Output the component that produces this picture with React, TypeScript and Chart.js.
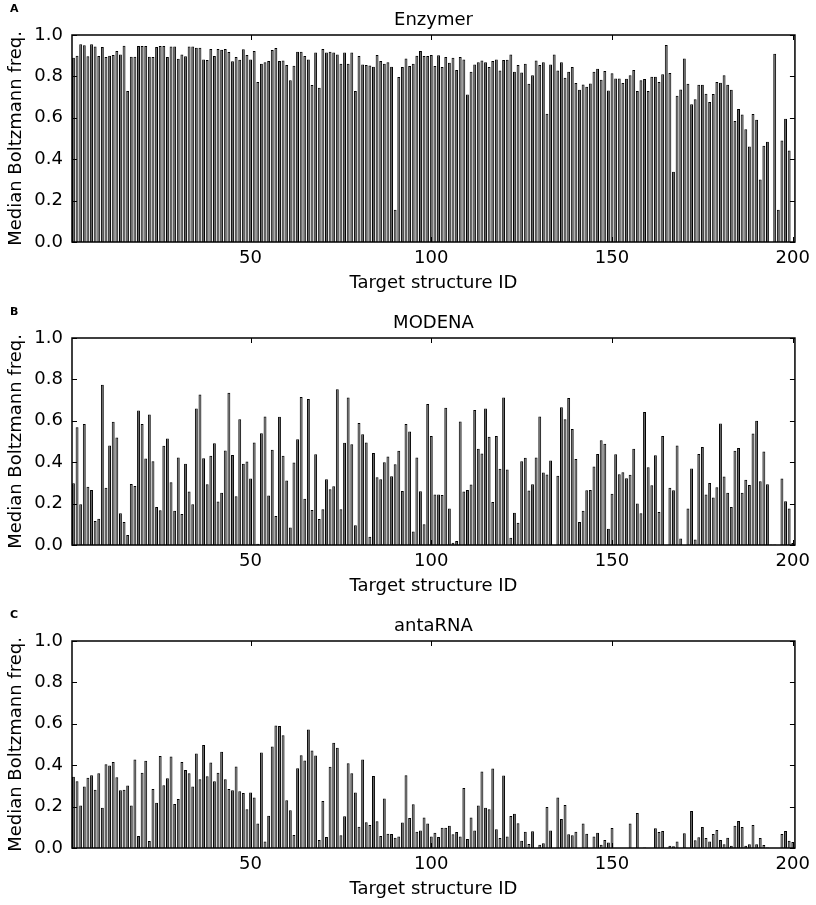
import React, { useEffect, useRef } from "react";
import { Chart, registerables } from "chart.js";

Chart.register(...registerables);

// target structure IDs and tick values
const structureIds = Array.from({ length: 200 }, (_, i) => i + 1);
const xTickValues = [50, 100, 150, 200];
const yTickValues = [0, 0.2, 0.4, 0.6, 0.8, 1.0];

// median Boltzmann frequency per target
const enzymer = [
  0.89, 0.9, 0.955, 0.95, 0.897, 0.955, 0.944, 0.898, 0.942, 0.894,
  0.9, 0.903, 0.923, 0.906, 0.948, 0.729, 0.895, 0.895, 0.947, 0.947,
  0.947, 0.895, 0.894, 0.942, 0.947, 0.947, 0.894, 0.944, 0.944, 0.885,
  0.906, 0.897, 0.944, 0.944, 0.939, 0.939, 0.882, 0.879, 0.932, 0.898,
  0.932, 0.929, 0.932, 0.918, 0.873, 0.894, 0.881, 0.931, 0.903, 0.882,
  0.923, 0.773, 0.861, 0.868, 0.874, 0.927, 0.937, 0.874, 0.877, 0.855,
  0.781, 0.852, 0.919, 0.919, 0.898, 0.882, 0.758, 0.915, 0.745, 0.932,
  0.916, 0.919, 0.915, 0.906, 0.861, 0.915, 0.861, 0.916, 0.729, 0.898,
  0.858, 0.855, 0.853, 0.847, 0.903, 0.874, 0.861, 0.868, 0.847, 0.156,
  0.797, 0.845, 0.887, 0.85, 0.861, 0.9, 0.923, 0.898, 0.898, 0.903,
  0.85, 0.902, 0.845, 0.894, 0.866, 0.89, 0.831, 0.894, 0.882, 0.713,
  0.823, 0.858, 0.868, 0.877, 0.868, 0.845, 0.874, 0.882, 0.829, 0.879,
  0.881, 0.906, 0.823, 0.855, 0.819, 0.861, 0.765, 0.805, 0.877, 0.855,
  0.868, 0.619, 0.858, 0.906, 0.829, 0.868, 0.794, 0.823, 0.845, 0.768,
  0.735, 0.761, 0.75, 0.766, 0.823, 0.837, 0.784, 0.826, 0.732, 0.815,
  0.79, 0.79, 0.768, 0.789, 0.805, 0.831, 0.729, 0.782, 0.787, 0.729,
  0.798, 0.798, 0.773, 0.81, 0.952, 0.816, 0.339, 0.706, 0.737, 0.887,
  0.765, 0.665, 0.69, 0.76, 0.76, 0.716, 0.676, 0.715, 0.773, 0.769,
  0.805, 0.76, 0.735, 0.584, 0.642, 0.616, 0.545, 0.461, 0.618, 0.59,
  0.302, 0.465, 0.484, 0, 0.91, 0.156, 0.49, 0.595, 0.442, 0,
];

const modena = [
  0.298, 0.569, 0.197, 0.585, 0.282, 0.266, 0.116, 0.127, 0.774, 0.277,
  0.481, 0.595, 0.519, 0.153, 0.111, 0.048, 0.295, 0.285, 0.65, 0.585,
  0.418, 0.631, 0.405, 0.184, 0.168, 0.479, 0.515, 0.303, 0.166, 0.423,
  0.15, 0.392, 0.258, 0.197, 0.66, 0.727, 0.419, 0.294, 0.431, 0.492,
  0.21, 0.253, 0.456, 0.735, 0.435, 0.235, 0.608, 0.392, 0.403, 0.321,
  0.495, 0.006, 0.54, 0.621, 0.239, 0.46, 0.14, 0.619, 0.431, 0.311,
  0.085, 0.398, 0.511, 0.715, 0.223, 0.705, 0.169, 0.439, 0.126, 0.173,
  0.318, 0.269, 0.284, 0.753, 0.173, 0.494, 0.713, 0.487, 0.095, 0.589,
  0.535, 0.495, 0.04, 0.445, 0.327, 0.318, 0.4, 0.427, 0.332, 0.39,
  0.455, 0.261, 0.584, 0.548, 0.065, 0.423, 0.26, 0.1, 0.681, 0.527,
  0.244, 0.244, 0.242, 0.663, 0.176, 0.011, 0.019, 0.597, 0.258, 0.266,
  0.292, 0.652, 0.465, 0.442, 0.66, 0.523, 0.208, 0.526, 0.368, 0.713,
  0.365, 0.035, 0.156, 0.108, 0.405, 0.421, 0.263, 0.294, 0.423, 0.621,
  0.35, 0.34, 0.408, 0, 0.335, 0.666, 0.608, 0.71, 0.56, 0.415,
  0.111, 0.166, 0.265, 0.266, 0.379, 0.44, 0.506, 0.489, 0.079, 0.248,
  0.439, 0.342, 0.352, 0.323, 0.339, 0.465, 0.2, 0.153, 0.642, 0.376,
  0.289, 0.434, 0.16, 0.527, 0, 0.276, 0.265, 0.481, 0.031, 0,
  0.176, 0.369, 0.027, 0.44, 0.473, 0.244, 0.3, 0.229, 0.279, 0.587,
  0.331, 0.253, 0.184, 0.455, 0.469, 0.253, 0.315, 0.29, 0.539, 0.6,
  0.308, 0.452, 0.294, 0.003, 0.003, 0, 0.321, 0.211, 0.176, 0.01,
];

const antarna = [
  0.344, 0.323, 0.205, 0.297, 0.339, 0.352, 0.282, 0.361, 0.195, 0.405,
  0.398, 0.416, 0.342, 0.279, 0.282, 0.302, 0.205, 0.427, 0.058, 0.363,
  0.421, 0.034, 0.285, 0.219, 0.445, 0.303, 0.337, 0.442, 0.213, 0.237,
  0.415, 0.377, 0.361, 0.297, 0.456, 0.332, 0.497, 0.347, 0.413, 0.323,
  0.363, 0.465, 0.332, 0.285, 0.279, 0.394, 0.274, 0.266, 0.187, 0.268,
  0.244, 0.118, 0.461, 0.031, 0.156, 0.49, 0.592, 0.589, 0.545, 0.231,
  0.182, 0.063, 0.385, 0.448, 0.423, 0.573, 0.471, 0.447, 0.039, 0.227,
  0.053, 0.392, 0.508, 0.484, 0.061, 0.153, 0.41, 0.361, 0.268, 0.103,
  0.427, 0.124, 0.111, 0.348, 0.129, 0.058, 0.239, 0.069, 0.068, 0.05,
  0.055, 0.123, 0.352, 0.145, 0.211, 0.079, 0.084, 0.147, 0.118, 0.056,
  0.074, 0.053, 0.098, 0.098, 0.108, 0.066, 0.077, 0.056, 0.29, 0.044,
  0.147, 0.084, 0.205, 0.369, 0.195, 0.187, 0.384, 0.09, 0.048, 0.35,
  0.056, 0.155, 0.165, 0.119, 0.035, 0.079, 0.019, 0.081, 0, 0.016,
  0.023, 0.198, 0.085, 0, 0.244, 0.14, 0.208, 0.066, 0.061, 0.079,
  0, 0.118, 0.069, 0, 0.055, 0.074, 0.016, 0.039, 0.026, 0.097,
  0, 0, 0, 0, 0.118, 0, 0.169, 0, 0.003, 0,
  0, 0.095, 0.077, 0.082, 0, 0.011, 0.008, 0.032, 0, 0.071,
  0, 0.179, 0.037, 0.052, 0.102, 0.048, 0.031, 0.068, 0.087, 0.039,
  0.018, 0.05, 0.011, 0.108, 0.131, 0.102, 0.011, 0.018, 0.111, 0.018,
  0.048, 0.015, 0.003, 0, 0, 0, 0.068, 0.082, 0.035, 0.029,
];

const FONT = "'DejaVu Sans', sans-serif";
const PANEL_W = 816;
const PANEL_H = 303;

// matplotlib-like frame: box, inward ticks on all sides, title and panel letter
const mplFrame = {
  id: "mplFrame",
  afterDraw(chart: any, _args: any, opts: any) {
    const { ctx, chartArea: a, scales } = chart;
    const tick = 5;
    ctx.save();
    ctx.strokeStyle = "#000";
    ctx.lineWidth = 1;
    ctx.beginPath();
    xTickValues.forEach((v) => {
      const px = Math.round(scales.x.getPixelForValue(v)) + 0.5;
      ctx.moveTo(px, a.bottom);
      ctx.lineTo(px, a.bottom - tick);
      ctx.moveTo(px, a.top);
      ctx.lineTo(px, a.top + tick);
    });
    yTickValues.forEach((v) => {
      const py = Math.round(scales.y.getPixelForValue(v)) + 0.5;
      ctx.moveTo(a.left, py);
      ctx.lineTo(a.left + tick, py);
      ctx.moveTo(a.right, py);
      ctx.lineTo(a.right - tick, py);
    });
    ctx.stroke();
    ctx.lineWidth = 1.5;
    ctx.strokeRect(a.left, a.top, a.right - a.left, a.bottom - a.top);

    ctx.fillStyle = "#000";
    ctx.font = `18px ${FONT}`;
    ctx.textAlign = "center";
    ctx.textBaseline = "middle";
    ctx.fillText(opts.title, (a.left + a.right) / 2, a.top - 15);
    ctx.font = `bold 11px ${FONT}`;
    ctx.textAlign = "left";
    ctx.fillText(opts.letter, 10, a.top - 26);
    ctx.restore();
  },
};

function Panel({ letter, title, values, top }: { letter: string; title: string; values: number[]; top: number }) {
  const chartRef = useRef<HTMLCanvasElement | null>(null);
  const chartInstanceRef = useRef<Chart<"bar"> | null>(null);

  useEffect(() => {
    if (!chartRef.current) return;
    const ctx = chartRef.current.getContext("2d");
    if (!ctx) return;

    if (chartInstanceRef.current) {
      chartInstanceRef.current.destroy();
    }

    const tickFont = { family: FONT, size: 18 };

    chartInstanceRef.current = new Chart(ctx, {
      type: "bar",
      data: {
        datasets: [
          {
            data: structureIds.map((id, i) => ({ x: id, y: values[i] })) as any,
            backgroundColor: "#555555",
            borderColor: "#000",
            borderWidth: 1,
            borderSkipped: "bottom",
            barPercentage: 0.8,
            categoryPercentage: 1,
          },
        ],
      },
      options: {
        animation: false,
        responsive: false,
        maintainAspectRatio: false,
        layout: { padding: { top: 35, right: 18, left: 0, bottom: 0 } },
        plugins: {
          legend: { display: false },
          tooltip: { enabled: false },
          // @ts-ignore custom plugin options
          mplFrame: { title, letter },
        },
        scales: {
          x: {
            type: "linear",
            min: 0.6,
            max: 200.6,
            offset: false,
            grid: { display: false, drawTicks: false },
            border: { display: false },
            afterBuildTicks: (s: any) => {
              s.ticks = xTickValues.map((v) => ({ value: v }));
            },
            afterFit: (s: any) => {
              s.height = 61;
            },
            ticks: {
              font: tickFont,
              color: "#000",
              padding: 6,
              maxRotation: 0,
              autoSkip: false,
            },
            title: {
              display: true,
              text: "Target structure ID",
              font: tickFont,
              color: "#000",
              padding: { top: 0, bottom: 9 },
            },
          },
          y: {
            min: 0,
            max: 1,
            grid: { display: false, drawTicks: false },
            border: { display: false },
            afterBuildTicks: (s: any) => {
              s.ticks = yTickValues.map((v) => ({ value: v }));
            },
            afterFit: (s: any) => {
              s.width = 72;
            },
            ticks: {
              font: tickFont,
              color: "#000",
              padding: 9,
              callback: (v: any) => Number(v).toFixed(1),
            },
            title: {
              display: true,
              text: "Median Boltzmann freq.",
              font: tickFont,
              color: "#000",
              padding: { top: 6, bottom: 0 },
            },
          },
        },
      },
      plugins: [mplFrame],
    });

    return () => {
      if (chartInstanceRef.current) {
        chartInstanceRef.current.destroy();
        chartInstanceRef.current = null;
      }
    };
  }, [letter, title, values]);

  return (
    <canvas
      ref={chartRef}
      width={PANEL_W}
      height={PANEL_H}
      style={{ position: "absolute", left: 0, top, width: PANEL_W, height: PANEL_H, display: "block" }}
    />
  );
}

export default function App() {
  return (
    <div
      style={{
        position: "absolute",
        left: 0,
        top: 0,
        width: 816,
        height: 905,
        overflow: "hidden",
        background: "#fff",
      }}
    >
      <Panel letter="A" title="Enzymer" values={enzymer} top={0} />
      <Panel letter="B" title="MODENA" values={modena} top={303} />
      <Panel letter="C" title="antaRNA" values={antarna} top={606} />
    </div>
  );
}
